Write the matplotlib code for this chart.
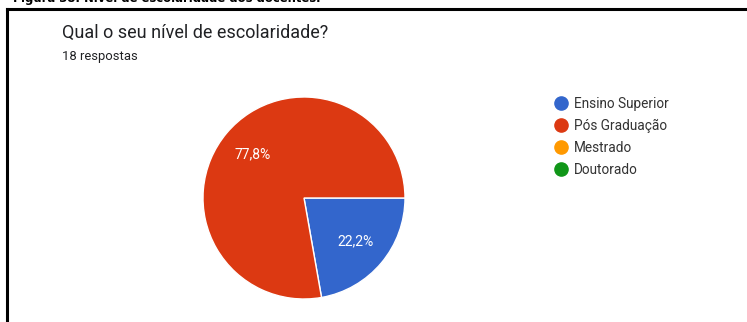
import matplotlib
matplotlib.use("Agg")
import matplotlib.pyplot as plt
from matplotlib.lines import Line2D

# Survey answers
categories = ["Ensino Superior", "Pós Graduação", "Mestrado", "Doutorado"]
counts = [4, 14, 0, 0]
colors = ["#3366CC", "#DC3912", "#FF9900", "#109618"]
title = "Qual o seu nível de escolaridade?"
subtitle = "18 respostas"
caption = "Figura 38: Nível de escolaridade dos docentes."

W, H = 747, 322
fig = plt.figure(figsize=(W / 100, H / 100), dpi=100)
fig.patch.set_facecolor("white")

def fx(px):
    return px / W

def fy(py):
    return 1 - py / H

# Caption (clipped at the top edge) and frame
fig.text(fx(13), fy(2), caption, fontsize=8.4, fontweight="bold",
         family="Liberation Sans Narrow", color="black", va="baseline", ha="left")
fig.add_artist(Line2D([fx(7), fx(747)], [fy(9), fy(9)], color="black", lw=2.2,
                      transform=fig.transFigure, solid_capstyle="projecting"))
fig.add_artist(Line2D([fx(7), fx(7)], [fy(9), fy(322)], color="black", lw=2.2,
                      transform=fig.transFigure, solid_capstyle="projecting"))

# Heading
fig.text(fx(62), fy(38), title, fontsize=13, family="Roboto",
         color="#202124", va="baseline", ha="left")
fig.text(fx(62), fy(60), subtitle, fontsize=9.4, family="Roboto",
         color="#202124", va="baseline", ha="left")

# Pie
cx, cy, r = 304, 198, 101
ax = fig.add_axes([fx(cx - r), fy(cy + r), 2 * r / W, 2 * r / H])
ax.set_aspect("equal")

shown = [(c, v, col) for c, v, col in zip(categories, counts, colors) if v > 0]
vals = [v for _, v, _ in shown]
cols = [col for _, _, col in shown]

def fmt(p):
    return ("%.1f%%" % p).replace(".", ",") if p > 0 else ""

wedges, texts, autotexts = ax.pie(
    vals, colors=cols, startangle=0, counterclock=False,
    autopct=fmt, pctdistance=0.67, radius=1,
    wedgeprops=dict(edgecolor="white", linewidth=1.0),
    textprops=dict(color="white", fontsize=10, family="Roboto"))
ax.set_xlim(-1.0, 1.0)
ax.set_ylim(-1.0, 1.0)

# Legend
handles = [Line2D([], [], marker="o", linestyle="none", markersize=9.5,
                  markerfacecolor=c, markeredgecolor=c) for c in colors]
leg = fig.legend(handles, categories, loc="upper left",
                 bbox_to_anchor=(fx(554), fy(97)), frameon=False,
                 prop=dict(family="Roboto", size=9.8), labelcolor="#333333",
                 handlelength=1.0, handletextpad=0.47, labelspacing=0.58,
                 borderpad=0, borderaxespad=0)

fig.savefig("out.png", dpi=100, facecolor="white")
